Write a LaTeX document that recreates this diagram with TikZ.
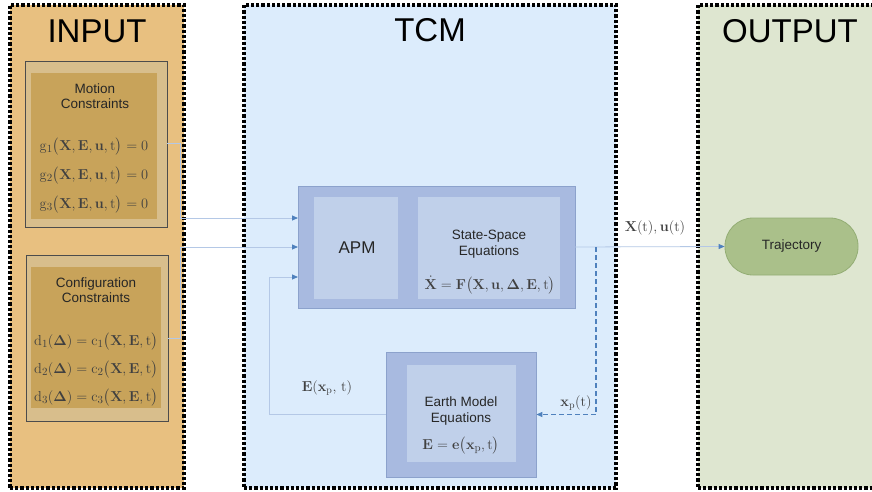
\documentclass[tikz,border=0pt]{standalone}
\usepackage{amsmath}
\usepackage[no-math]{fontspec}
\setmainfont{Liberation Sans}
\usetikzlibrary{arrows.meta,calc}
\definecolor{inputc}{HTML}{E8C080}
\definecolor{tcmc}{HTML}{DCECFC}
\definecolor{outc}{HTML}{DEE6D0}
\definecolor{tanout}{HTML}{D8BE8C}
\definecolor{tanin}{HTML}{C8A35A}
\definecolor{blueout}{HTML}{A8BAE0}
\definecolor{bluebd}{HTML}{8CA2CC}
\definecolor{bluein}{HTML}{C0D0EA}
\definecolor{trajc}{HTML}{AAC08A}
\definecolor{trajbd}{HTML}{93AD74}
\definecolor{linec}{HTML}{B4C8E6}
\definecolor{tipc}{HTML}{4F81BD}
\definecolor{mathc}{HTML}{404040}
\tikzset{
  panel/.style={draw=black, line width=3.2pt, dash pattern=on 3.2pt off 2pt, rectangle, inner sep=0pt},
  tanbox/.style={draw=black!70, line width=0.8pt, fill=tanout, rectangle, inner sep=0pt},
  taninner/.style={fill=tanin, rectangle, inner sep=0pt},
  bluebox/.style={draw=bluebd, line width=0.8pt, fill=blueout, rectangle, inner sep=0pt},
  blueinner/.style={fill=bluein, rectangle, inner sep=0pt},
  title/.style={font=\fontsize{33}{36}\selectfont, text=black},
  lbl/.style={font=\fontsize{13.5}{15.5}\selectfont, text=black!85, align=center, inner sep=1pt},
  fml/.style={font=\fontsize{15}{16}\selectfont, text=mathc, inner sep=1pt},
  conn/.style={draw=linec, line width=0.8pt, -{Triangle[length=6pt,width=5pt,fill=tipc,color=tipc]}},
  dconn/.style={draw=tipc, line width=1.1pt, dash pattern=on 5pt off 3pt, -{Triangle[length=6pt,width=5pt,fill=tipc,color=tipc]}},
}
\begin{document}
\begin{tikzpicture}[x=1pt,y=-1pt]
\useasboundingbox (0,0) rectangle (872,492);
\fill[white] (0,0) rectangle (872,492);
% panels
\node[panel, fill=inputc, minimum width=174pt, minimum height=483pt] (input) at (97,246.5) {};
\node[panel, fill=tcmc, minimum width=372pt, minimum height=483pt] (tcm) at (430,246.5) {};
\node[panel, fill=outc, minimum width=190pt, minimum height=483pt] (output) at (793,246.5) {};
\node[title] (tin) at (97,31) {INPUT};
\node[title] (ttcm) at (430,30) {TCM};
\node[title] (tout) at (790,31) {OUTPUT};
% motion constraints
\node[tanbox, minimum width=142pt, minimum height=166pt] (motion) at (96,144) {};
\node[taninner, minimum width=126pt, minimum height=146pt] (motionin) at (94,146) {};
\node[lbl] (motionlbl) at (95,96) {Motion\\Constraints};
\node[fml] (g1) at (94,147) {$\mathrm{g}_1\bigl(\mathbf{X},\mathbf{E},\mathbf{u},\mathrm{t}\bigr)=0$};
\node[fml] (g2) at (94,176) {$\mathrm{g}_2\bigl(\mathbf{X},\mathbf{E},\mathbf{u},\mathrm{t}\bigr)=0$};
\node[fml] (g3) at (94,205) {$\mathrm{g}_3\bigl(\mathbf{X},\mathbf{E},\mathbf{u},\mathrm{t}\bigr)=0$};
% configuration constraints
\node[tanbox, minimum width=142pt, minimum height=166pt] (config) at (97,338) {};
\node[taninner, minimum width=130pt, minimum height=141pt] (configin) at (96,337.5) {};
\node[lbl] (configlbl) at (96,290) {Configuration\\Constraints};
\node[fml] (d1) at (96,342) {$\mathrm{d}_1(\mathbf{\Delta})=\mathrm{c}_1\bigl(\mathbf{X},\mathbf{E},\mathrm{t}\bigr)$};
\node[fml] (d2) at (96,370) {$\mathrm{d}_2(\mathbf{\Delta})=\mathrm{c}_2\bigl(\mathbf{X},\mathbf{E},\mathrm{t}\bigr)$};
\node[fml] (d3) at (96,398) {$\mathrm{d}_3(\mathbf{\Delta})=\mathrm{c}_3\bigl(\mathbf{X},\mathbf{E},\mathrm{t}\bigr)$};
% main TCM box
\node[bluebox, minimum width=277pt, minimum height=122pt] (main) at (436.5,247) {};
\node[blueinner, minimum width=84pt, minimum height=102pt] (apm) at (356,248) {};
\node[font=\fontsize{17}{20}\selectfont, text=black!85] (apmlbl) at (357,248) {APM};
\node[blueinner, minimum width=142pt, minimum height=102pt] (ss) at (489,248) {};
\node[lbl] (sslbl) at (489,244) {State-Space\\Equations};
\node[fml] (ssf) at (490,285) {$\dot{\mathbf{X}}=\mathbf{F}\bigl(\mathbf{X},\mathbf{u},\mathbf{\Delta},\mathbf{E},\mathrm{t}\bigr)$};
% earth model
\node[bluebox, minimum width=150pt, minimum height=125pt] (earth) at (461,414.5) {};
\node[blueinner, minimum width=109pt, minimum height=97pt] (earthin) at (461.5,413.5) {};
\node[lbl] (earthlbl) at (461,411) {Earth Model\\Equations};
\node[fml] (earthf) at (461,446) {$\mathbf{E}=\mathbf{e}\bigl(\mathbf{x}_{\mathrm{p}},\mathrm{t}\bigr)$};
% trajectory
\node[draw=trajbd, line width=0.8pt, fill=trajc, rounded corners=28pt, minimum width=133pt, minimum height=57pt, font=\fontsize{13.5}{16}\selectfont, text=black!85] (traj) at (791.5,246.5) {Trajectory};
% connectors
\coordinate (in1) at (298,218);
\coordinate (in2) at (298,247);
\coordinate (in3) at (298,277);
\coordinate (outp) at (575,247);
\coordinate (dstart) at (596,247);
\coordinate (motout) at (167,143);
\coordinate (cfgout) at (168,338);
\draw[conn] (motout) -- (180,143) |- (in1);
\draw[conn] (cfgout) -- (180,338) |- (in2);
\draw[conn] (earth.west) -- (269,414.5) |- (in3);
\draw[conn] (outp) -- (traj.west);
\draw[dconn] (dstart) |- (earth.east);
% labels
\node[fml, font=\fontsize{14}{15}\selectfont] (xu) at (655,228) {$\mathbf{X}(\mathrm{t}),\mathbf{u}(\mathrm{t})$};
\node[fml, font=\fontsize{14}{15}\selectfont] (elbl) at (327,388) {$\mathbf{E}(\mathbf{x}_{\mathrm{p}},\,\mathrm{t})$};
\node[fml, font=\fontsize{14}{15}\selectfont] (xplbl) at (576,403) {$\mathbf{x}_{\mathrm{p}}(\mathrm{t})$};
\end{tikzpicture}
\end{document}
